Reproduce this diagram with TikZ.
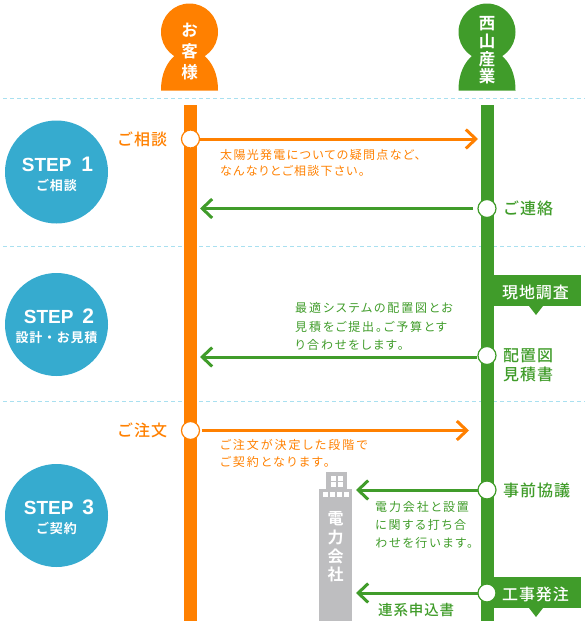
\documentclass[tikz,border=0pt]{standalone}
\usepackage{fontspec}
\setmainfont{Noto Sans CJK JP}
\newfontfamily\cjko[LetterSpace=11,RawFeature=+palt]{Noto Sans CJK JP}
\newfontfamily\cjkp[LetterSpace=17,RawFeature=+palt]{Noto Sans CJK JP}
\newfontfamily\cjkg[LetterSpace=15.5,RawFeature=+palt]{Noto Sans CJK JP}
\newfontfamily\cjkb[LetterSpace=6,BoldFont={Noto Sans CJK JP Bold}]{Noto Sans CJK JP Medium}
\newfontfamily\latn[BoldFont={Liberation Sans Bold}]{Liberation Sans}
\usetikzlibrary{arrows.meta}
\definecolor{org}{HTML}{FF8000}
\definecolor{grn}{HTML}{409C2A}
\definecolor{stepc}{HTML}{36ABCF}
\definecolor{dashc}{HTML}{A9E0F0}
\definecolor{bldg}{HTML}{BEBEC0}
\tikzset{
  x=1pt,y=-1pt,
  sep/.style={dashc,line width=1pt,dash pattern=on 4pt off 3pt},
  stepdisc/.style={circle,fill=stepc,minimum size=103pt,inner sep=0pt},
  mark o/.style={circle,draw=org,fill=white,line width=1.2pt,minimum size=18pt,inner sep=0pt},
  mark g/.style={circle,draw=grn,fill=white,line width=1.2pt,minimum size=18pt,inner sep=0pt},
  conn/.style={line width=3pt,-{Straight Barb[length=10pt,width=19pt,line width=3pt]}},
  noteo/.style={font=\cjko\fontsize{12}{16.7}\selectfont,inner sep=0pt,align=left},
  notep/.style={font=\cjkp\fontsize{12}{16.7}\selectfont,inner sep=0pt,align=left},
  noteg/.style={font=\cjkg\fontsize{12}{18.3}\selectfont,inner sep=0pt,align=left},
  lab/.style={font=\cjkb\fontsize{16}{19.5}\selectfont,inner sep=0pt,align=left},
  head/.style={font=\cjkb\bfseries\fontsize{16.5}{21}\selectfont,text=white,inner sep=0pt,align=center},
  tag/.style={font=\cjkb\fontsize{16}{20}\selectfont,text=white,inner sep=0pt},
  steptitle/.style={font=\latn\bfseries\fontsize{19}{20}\selectfont,text=white,inner sep=0pt},
  stepsub/.style={font=\cjkb\bfseries\fontsize{13}{15}\selectfont,text=white,inner sep=0pt},
}
\begin{document}
\begin{tikzpicture}
\useasboundingbox (0,0) rectangle (585,621);
% separators
\draw[sep] (3,98.5) -- (585,98.5);
\draw[sep] (3,246) -- (585,246);
\draw[sep] (3,401.5) -- (585,401.5);
% people
\fill[org] (189.5,32) circle[radius=28.5];
\fill[org] (161,90.5) .. controls (161,73) and (167,62) .. (176,54.5) -- (203,54.5) .. controls (212,62) and (218,73) .. (218,90.5) -- cycle;
\fill[grn] (487,32) circle[radius=28.5];
\fill[grn] (458.5,90.5) .. controls (458.5,73) and (464.5,62) .. (473.5,54.5) -- (500.5,54.5) .. controls (509.5,62) and (515.5,73) .. (515.5,90.5) -- cycle;
\node[head] (hcust) at (189.5,51.5) {お\\客\\様};
\node[head,font=\cjkb\bfseries\fontsize{16.5}{17.7}\selectfont] (hnishi) at (487,50.5) {西\\山\\産\\業};
% bars
\fill[org] (184,105) rectangle (197,621);
\fill[grn] (481,105) rectangle (493.5,621);
% tags
\fill[grn] (493,275) rectangle (581,306);
\fill[grn] (529,306) -- (536,315) -- (543,306) -- cycle;
\fill[grn] (493,577) rectangle (581,608);
\fill[grn] (529,608) -- (536,617) -- (543,608) -- cycle;
\node[tag] (t1) at (535.5,292) {現地調査};
\node[tag] (t2) at (535.5,594) {工事発注};
% step discs
\node[stepdisc] (s1) at (56.5,172) {};
\node[stepdisc] (s2) at (56.5,324.5) {};
\node[stepdisc] (s3) at (56.5,515.5) {};
\node[steptitle] (s1t) at (57.5,164) {STEP\hspace{10pt}{\fontsize{21}{20}\selectfont 1}};
\node[stepsub] (s1s) at (56.5,185.5) {ご相談};
\node[steptitle] (s2t) at (59,316.5) {STEP\hspace{9pt}{\fontsize{21}{20}\selectfont 2}};
\node[stepsub] (s2s) at (56.5,337.5) {設計・お見積};
\node[steptitle] (s3t) at (59,507.5) {STEP\hspace{9pt}{\fontsize{21}{20}\selectfont 3}};
\node[stepsub] (s3s) at (56.5,528.5) {ご契約};
% building
\fill[bldg] (326,472) rectangle (347,490);
\fill[bldg] (319,489) rectangle (352,621);
\foreach \x in {331,337.5} \foreach \y in {475.5,482} \fill[white] (\x,\y) rectangle +(5,5);
\foreach \x in {322.5,329.5,336.5,343.5} \fill[white] (\x,492) rectangle +(5,5);
\node[head,font=\cjkb\bfseries\fontsize{16}{18.7}\selectfont] (bld) at (335.5,547) {電\\力\\会\\社};
% markers
\node[mark o] (m1) at (190.5,139) {};
\node[mark o] (m2) at (190.5,430.5) {};
\node[mark g] (g1) at (487,208.5) {};
\node[mark g] (g2) at (487,355.5) {};
\node[mark g] (g3) at (487,490) {};
\node[mark g] (g4) at (487,593) {};
% free ends
\coordinate (e1) at (478,139);
\coordinate (e2) at (469,430.5);
\coordinate (e3) at (200,208.5);
\coordinate (e4) at (200,357);
\coordinate (e5) at (356,490);
\coordinate (e6) at (356,593);
% connectors
\draw[conn,org] (m1) ++(9,0) -- (e1);
\draw[conn,org,shorten <=2pt] (m2) ++(9,0) -- (e2);
\draw[conn,grn,shorten <=5pt] (g1) ++(-9,0) -- (e3);
\draw[conn,grn] (g2.west |- e4) -- (e4);
\draw[conn,grn] (g3) ++(-9,0) -- (e5);
\draw[conn,grn] (g4) ++(-9,0) -- (e6);
% labels
\node[lab,org,anchor=west] (l1) at (117,139) {ご相談};
\node[lab,org,anchor=west] (l2) at (117,430.5) {ご注文};
\node[lab,grn,anchor=west] (l3) at (503,208.5) {ご連絡};
\node[lab,grn,anchor=north west] (l4) at (503,348) {配置図\\見積書};
\node[lab,grn,anchor=west] (l5) at (503,490.5) {事前協議};
\node[grn,inner sep=0pt,font=\cjkb\fontsize{14.5}{18}\selectfont,anchor=west] (l6) at (378,610) {連系申込書};
% notes
\node[noteo,org,anchor=north west] (n1) at (220,149) {太陽光発電についての疑問点など、\\なんなりとご相談下さい。};
\node[noteg,grn,anchor=north west] (n2) at (295,302.5) {最適システムの配置図とお\\見積をご提出。ご予算とす\\り合わせをします。};
\node[notep,org,anchor=north west] (n3) at (220,439) {ご注文が決定した段階で\\ご契約となります。};
\node[noteg,grn,anchor=north west] (n4) at (375,501) {電力会社と設置\\に関する打ち合\\わせを行います。};
\end{tikzpicture}
\end{document}
